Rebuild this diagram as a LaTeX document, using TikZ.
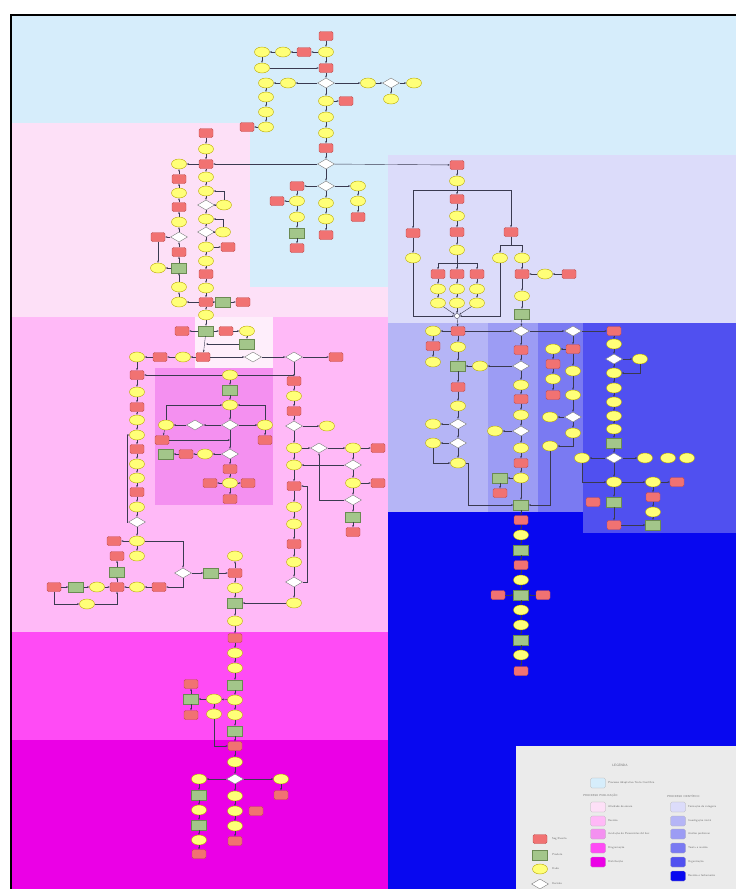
\documentclass[tikz,border=0pt]{standalone}
\usetikzlibrary{shapes.geometric,arrows.meta}
\definecolor{lblue}{HTML}{D6EDFB}
\definecolor{lpink}{HTML}{FDE0F7}
\definecolor{wpink}{HTML}{FEEEFB}
\definecolor{pinkb}{HTML}{FFB9F7}
\definecolor{pinkc}{HTML}{F490F0}
\definecolor{magd}{HTML}{FF4BF5}
\definecolor{mage}{HTML}{EB00E6}
\definecolor{lava}{HTML}{DCDCFA}
\definecolor{blub}{HTML}{B5B5F6}
\definecolor{bluc}{HTML}{9C9CF4}
\definecolor{blud}{HTML}{7A7AF2}
\definecolor{blue5}{HTML}{5050F0}
\definecolor{bluf}{HTML}{0808F0}
\definecolor{legbg}{HTML}{EBEBEB}
\definecolor{redf}{HTML}{F17272}
\definecolor{redb}{HTML}{C24F4F}
\definecolor{yelf}{HTML}{FFFF78}
\definecolor{yelb}{HTML}{B8A800}
\definecolor{grnf}{HTML}{A3C68A}
\definecolor{grnb}{HTML}{6A8A52}
\definecolor{linec}{HTML}{3A3A50}
\definecolor{legtxt}{HTML}{707070}
\tikzset{
  rn/.style={rectangle, draw=redb, fill=redf, rounded corners=1.5pt, minimum width=14pt, minimum height=9pt, inner sep=0pt, line width=0.4pt},
  yn/.style={ellipse, draw=yelb, fill=yelf, minimum width=15pt, minimum height=10pt, inner sep=0pt, line width=0.4pt},
  gn/.style={rectangle, draw=grnb, fill=grnf, minimum width=15pt, minimum height=10pt, inner sep=0pt, line width=0.4pt},
  dn/.style={diamond, draw=gray, fill=white, minimum width=17pt, minimum height=10pt, inner sep=0pt, line width=0.4pt},
  ar/.style={-{Stealth[length=2.2pt,width=1.8pt]}, draw=linec, line width=0.4pt},
  ln/.style={draw=linec, line width=0.4pt},
  legt/.style={font=\sffamily\fontsize{2.8}{3.2}\selectfont, text=legtxt, anchor=west, inner sep=0pt},
  swatch/.style={rectangle, rounded corners=1.5pt, draw=gray!60, minimum width=15pt, minimum height=10pt, inner sep=0pt, line width=0.3pt}
}
\begin{document}
\begin{tikzpicture}[x=1pt,y=-1pt]
\useasboundingbox (0,0) rectangle (736,889);
\fill[white] (0,0) rectangle (736,889);
% backgrounds
\fill[lblue] (12,16) rectangle (736,123);
\fill[lblue] (250,123) rectangle (388,287);
\fill[lblue] (388,123) rectangle (736,155);
\fill[lpink] (12,123) rectangle (250,317);
\fill[lpink] (250,287) rectangle (388,317);
\fill[pinkb] (12,317) rectangle (388,632);
\fill[wpink] (195,317) rectangle (273,368);
\fill[pinkc] (155,368) rectangle (273,505);
\fill[magd] (12,632) rectangle (388,740);
\fill[mage] (12,740) rectangle (388,889);
\fill[lava] (388,155) rectangle (736,323);
\fill[bluf] (388,323) rectangle (736,889);
\fill[blub] (388,323) rectangle (488,512);
\fill[bluc] (488,323) rectangle (538,512);
\fill[blud] (538,323) rectangle (583,512);
\fill[blue5] (583,323) rectangle (736,533);
\fill[legbg] (516,746) rectangle (736,889);
\draw[line width=1.6pt] (11,895) -- (11,15) -- (742,15);

% red nodes
\foreach \p/\q in {326/36, 304/52, 326/68, 247/127, 346/101, 326/148,
  297/186, 277/201, 326/235, 358/217, 297/248,
  206/133, 206/164, 228/247, 206/274, 206/302, 243/302, 179/179, 179/207, 158/237, 179/252,
  182/331, 226/331, 160/357, 203/357, 336/357,
  137/375, 137/407, 137/449, 137/492,
  162/440, 265/440, 186/454, 230/469, 210/483, 248/483, 230/499,
  294/381, 294/411, 378/448, 378/483, 294/486, 353/532, 294/544,
  114/541, 117/556, 54/587, 117/587, 159/587, 235/573, 235/638, 191/684, 191/715, 235/746, 235/841, 199/854, 281/795, 256/811,
  457/165, 457/199, 457/232, 413/233, 511/232, 438/274, 457/274, 477/274, 522/274, 569/274,
  458/331, 433/346, 458/387, 521/350, 521/399, 521/463, 500/493, 521/520, 573/349, 553/364, 553/395,
  614/331, 677/482, 593/502, 653/497, 614/525,
  521/565, 498/595, 543/595, 521/671}
  \node[rn] (R\p x\q) at (\p,\q) {};

% yellow nodes
\foreach \p/\q in {262/52, 283/52, 326/52, 262/68, 288/83, 266/83, 368/83, 414/83, 391/99, 266/97, 266/112, 266/127, 326/101, 326/117, 326/133,
  297/201, 297/217, 326/203, 326/219, 358/186, 358/201,
  206/149, 179/164, 206/177, 206/191, 224/205, 206/219, 223/232, 206/247, 206/261, 206/288, 206/315, 179/302, 179/193, 179/222, 158/268, 179/287,
  247/331, 137/357, 183/357,
  137/392, 137/420, 137/435, 137/464, 137/478, 137/507,
  230/375, 230/405, 166/425, 265/425, 205/454, 230/483,
  294/396, 327/426, 294/448, 353/448, 294/465, 353/483, 294/507, 294/524, 294/562, 294/603,
  137/541, 137/556, 137/587, 97/587, 87/604, 235/556, 235/588, 235/621, 235/653, 235/668, 235/700, 235/715, 214/699, 214/714, 235/762, 235/796, 235/811, 235/826, 199/779, 281/779, 199/810, 199/840,
  457/181, 457/216, 457/250, 438/289, 457/289, 477/289, 438/303, 457/303, 477/303, 413/258, 500/258, 522/258, 545/274, 522/296,
  433/331, 433/362, 458/347, 458/406, 433/424, 433/443, 458/463, 480/366, 521/385, 521/415, 495/431, 521/448, 521/478,
  553/349, 573/371, 553/379, 573/395, 550/417, 573/433, 550/446,
  614/344, 640/359, 614/373, 614/388, 614/402, 614/416, 614/429, 582/458, 645/458, 668/458, 687/458, 614/482, 653/482, 653/512,
  521/535, 521/580, 521/610, 521/625, 521/655}
  \node[yn] (Y\p x\q) at (\p,\q) {};

% green nodes
\foreach \p/\q in {297/233, 223/302, 179/268, 206/331, 247/344, 230/390, 166/454, 353/517, 117/572, 211/573, 76/587, 235/603, 235/685, 191/699, 235/731, 199/795, 199/825,
  522/314, 458/366, 500/478, 521/505, 614/443, 614/502, 653/525, 521/550, 521/595, 521/640}
  \node[gn] (G\p x\q) at (\p,\q) {};

% decisions
\foreach \p/\q in {326/83, 391/83, 326/164, 326/186, 206/205, 206/232, 179/237, 253/357, 294/357, 137/522, 230/425, 195/425, 230/454, 294/426, 319/448, 353/465, 353/500, 294/582, 183/573, 235/779,
  521/331, 573/331, 521/366, 458/424, 458/443, 521/431, 573/417, 614/359, 614/458}
  \node[dn] (D\p x\q) at (\p,\q) {};

\node[circle, draw=linec, fill=white, minimum size=5pt, inner sep=0pt] (J) at (457,316) {};
\coordinate (bara) at (457,190);
\coordinate (barb) at (457,263);
\coordinate (spl) at (511,245);
\coordinate (k307) at (307,486);
\coordinate (k468) at (468,505);

% straight connectors
\foreach \a/\b in {R326x36/Y326x52, Y326x52/R304x52, R304x52/Y283x52, Y283x52/Y262x52, Y262x52/Y262x68, Y262x68/R326x68, Y326x52/R326x68, R326x68/D326x83,
  D326x83/Y288x83, Y288x83/Y266x83, Y266x83/Y266x97, Y266x97/Y266x112, Y266x112/Y266x127, Y266x127/R247x127,
  D326x83/Y368x83, Y368x83/D391x83, D391x83/Y414x83, D391x83/Y391x99,
  D326x83/Y326x101, Y326x101/R346x101, Y326x101/Y326x117, Y326x117/Y326x133, Y326x133/R326x148, R326x148/D326x164,
  D326x164/R206x164, D326x164/R457x165, D326x164/D326x186, D326x186/R297x186, D326x186/Y358x186, D326x186/Y326x203, Y326x203/Y326x219, Y326x219/R326x235,
  R297x186/Y297x201, Y297x201/R277x201, Y297x201/Y297x217, Y297x217/G297x233, G297x233/R297x248, Y358x186/Y358x201, Y358x201/R358x217,
  R206x133/Y206x149, Y206x149/R206x164, R206x164/Y206x177, Y206x177/Y206x191, Y206x191/D206x205, D206x205/Y224x205, D206x205/Y206x219,
  Y206x219/D206x232, D206x232/Y223x232, D206x232/Y206x247, Y206x247/R228x247, Y206x247/Y206x261, Y206x261/R206x274, R206x274/Y206x288,
  Y206x288/R206x302, R206x302/G223x302, G223x302/R243x302, R206x302/Y179x302, R206x302/Y206x315, Y206x315/G206x331, R206x164/Y179x164,
  Y179x302/Y179x287, Y179x287/G179x268, G179x268/R179x252, R179x252/D179x237, D179x237/Y179x222, Y179x222/R179x207, R179x207/Y179x193,
  Y179x193/R179x179, R179x179/Y179x164, D179x237/R158x237, R158x237/Y158x268, G179x268/Y158x268,
  G206x331/R182x331, G206x331/R226x331, R226x331/Y247x331, Y247x331/G247x344, G206x331/R203x357,
  R203x357/Y183x357, Y183x357/R160x357, R160x357/Y137x357, R203x357/D253x357, D253x357/D294x357, D294x357/R336x357,
  Y137x357/R137x375, R137x375/Y137x392, Y137x392/R137x407, R137x407/Y137x420, Y137x420/Y137x435, Y137x435/R137x449, R137x449/Y137x464,
  Y137x464/Y137x478, Y137x478/R137x492, R137x492/Y137x507, Y137x507/D137x522, D137x522/Y137x541, Y137x541/R114x541, Y137x541/Y137x556,
  Y230x375/R137x375, Y230x375/G230x390, G230x390/Y230x405, Y230x405/D230x425, D230x425/D195x425, D195x425/Y166x425, D230x425/Y265x425, Y265x425/R265x440,
  D230x425/D230x454, D230x454/Y205x454, Y205x454/R186x454, R186x454/G166x454, D230x454/R230x469, R230x469/Y230x483, Y230x483/R210x483,
  Y230x483/R248x483, Y230x483/R230x499, Y166x425/R162x440,
  D294x357/R294x381, R294x381/Y294x396, Y294x396/R294x411, R294x411/D294x426, D294x426/Y327x426, D294x426/Y294x448, Y294x448/D319x448,
  D319x448/Y353x448, Y353x448/R378x448, Y294x448/Y294x465, Y294x465/R294x486, R294x486/Y294x507, Y294x507/Y294x524, Y294x524/R294x544,
  R294x544/Y294x562, Y294x562/D294x582, D294x582/Y294x603, Y294x603/G235x603, Y353x448/D353x465, D353x465/Y294x465, D353x465/Y353x483,
  Y353x483/R378x483, Y353x483/D353x500, D353x500/G353x517, G353x517/R353x532,
  D183x573/G211x573, G211x573/R235x573, R235x573/Y235x556, R235x573/Y235x588, Y235x588/G235x603, R159x587/Y137x587, Y137x587/R117x587,
  R117x587/G117x572, G117x572/R117x556, R54x587/G76x587, G76x587/Y97x587, Y97x587/R117x587,
  G235x603/Y235x621, Y235x621/R235x638, R235x638/Y235x653, Y235x653/Y235x668, Y235x668/G235x685, G235x685/Y235x700, Y235x700/Y235x715,
  Y235x715/G235x731, G235x731/R235x746, R235x746/Y235x762, Y235x762/D235x779, D235x779/Y235x796, Y235x796/Y235x811, Y235x811/Y235x826,
  Y235x826/R235x841, Y235x700/Y214x699, Y214x699/G191x699, G191x699/R191x684, G191x699/R191x715, Y214x699/Y214x714,
  D235x779/Y199x779, D235x779/Y281x779, Y199x779/G199x795, G199x795/Y199x810, Y199x810/G199x825, G199x825/Y199x840, Y199x840/R199x854, Y281x779/R281x795,
  R457x165/Y457x181, Y457x181/R457x199, R457x199/Y457x216, Y457x216/R457x232, R457x232/Y457x250, Y457x250/R457x274,
  R438x274/Y438x289, Y438x289/Y438x303, R457x274/Y457x289, Y457x289/Y457x303, R477x274/Y477x289, Y477x289/Y477x303,
  Y438x303/J, Y457x303/J, Y477x303/J, R413x233/Y413x258,
  Y522x258/R522x274, R522x274/Y522x296, Y522x296/G522x314, G522x314/D521x331, R569x274/Y545x274, Y545x274/R522x274, J/R458x331,
  R458x331/Y433x331, R458x331/D521x331, D521x331/D573x331, D573x331/R614x331, R458x331/Y458x347, Y458x347/G458x366, G458x366/R458x387,
  R458x387/Y458x406, Y458x406/D458x424, D458x424/D458x443, D458x443/Y458x463, D458x424/Y433x424, D458x443/Y433x443, Y480x366/G458x366,
  Y433x331/R433x346, R433x346/Y433x362,
  D521x331/R521x350, R521x350/D521x366, D521x366/Y480x366, D521x366/Y521x385, Y521x385/R521x399, R521x399/Y521x415, Y521x415/D521x431,
  D521x431/Y495x431, D521x431/Y521x448, Y521x448/R521x463, R521x463/Y521x478, Y521x478/G500x478, G500x478/R500x493, Y521x478/G521x505,
  D573x331/R573x349, R573x349/Y553x349, Y553x349/R553x364, R553x364/Y553x379, Y553x379/R553x395, R573x349/Y573x371, Y573x371/Y573x395,
  Y573x395/D573x417, D573x417/Y550x417, D573x417/Y573x433,
  R614x331/Y614x344, Y614x344/D614x359, D614x359/Y640x359, D614x359/Y614x373, Y614x373/Y614x388, Y614x388/Y614x402, Y614x402/Y614x416,
  Y614x416/Y614x429, Y614x429/G614x443, G614x443/D614x458, D614x458/Y582x458, D614x458/Y645x458, D614x458/Y614x482, Y614x482/Y653x482,
  Y653x482/R677x482, Y653x482/R653x497, R653x497/Y653x512, Y653x512/G653x525, Y614x482/G614x502, G614x502/R614x525, R614x525/G653x525,
  G521x505/R521x520, R521x520/Y521x535, Y521x535/G521x550, G521x550/R521x565, R521x565/Y521x580, Y521x580/G521x595, R498x595/G521x595,
  R543x595/G521x595, G521x595/Y521x610, Y521x610/Y521x625, Y521x625/G521x640, G521x640/Y521x655, Y521x655/R521x671}
  \draw[ar] (\a) -- (\b);

% orthogonal connectors
\draw[ar] (Y224x205) |- (Y206x191);
\draw[ar] (Y223x232) |- (Y206x219);
\draw[ar] (G247x344) -- (G247x344 -| G206x331);
\draw[ar] (D137x522.west) -| (127,435) -- (Y137x435);
\draw[ln] (Y230x375) -- (Y230x375 -| D294x357);
\draw[ar] (Y166x425) |- (Y230x405);
\draw[ar] (Y265x425) |- (Y230x405);
\draw[ar] (R162x440) -- (R162x440 -| D230x425);
\draw[ar] (D353x500) -| (D319x448);
\draw[ar] (D294x582) -| (k307) -- (R294x486);
\draw[ar] (Y137x541) -| (D183x573);
\draw[ar] (D183x573) |- (R159x587);
\draw[ar] (R54x587) |- (Y87x604);
\draw[ar] (Y87x604) -| (R117x587);
\draw[ar] (Y214x714) |- (R235x746);
\draw[ar] (bara) -| (R413x233);
\draw[ar] (bara) -| (R511x232);
\draw[ar] (barb) -| (R438x274);
\draw[ar] (barb) -| (R477x274);
\draw[ln] (R511x232) -- (spl);
\draw[ar] (spl) -| (Y500x258);
\draw[ar] (spl) -| (Y522x258);
\draw[ar] (Y413x258) |- (J);
\draw[ar] (Y500x258) |- (J);
\draw[ar] (Y433x443) |- (Y458x463);
\draw[ar] (Y458x463) -| (k468) -- (G521x505);
\draw[ar] (Y573x433) |- (Y550x446);
\draw[ar] (Y550x446) |- (G521x505);
\draw[ar] (Y640x359) |- (Y614x373);
\draw[ar] (Y582x458) |- (Y614x482);

% legend
\node[font=\sffamily\fontsize{3.2}{3.8}\selectfont, text=legtxt, inner sep=0pt] (lgT) at (620,765) {LEGENDA};
\node[swatch, fill=lblue] (lgA) at (598,783) {};
\node[legt] (lgAt) at (608,783) {Processo Adaptativo Texto Científico};
\node[legt] (lgH1) at (583,796) {PROCESSO PUBLICAÇÃO};
\node[legt] (lgH2) at (667,796) {PROCESSO CIENTÍFICO};
\foreach \q/\c/\t in {807/lpink/Atividade de ensaio, 821/pinkb/Revisão/Normalização, 834/pinkc/Avaliação de Pareceristas Ad hoc, 848/magd/Diagramação, 862/mage/Distribuição}
  {\node[swatch, fill=\c] (lgP\q) at (598,\q) {};
   \node[legt] (lgPt\q) at (608,\q) {\t};}
\foreach \q/\c/\t in {807/lava/Formação de categoria, 821/blub/Investigação inicial, 834/bluc/Análise preliminar, 848/blud/Teoria e revisão, 862/blue5/Organização, 876/bluf/Revisão e fechamento}
  {\node[swatch, fill=\c] (lgB\q) at (678,\q) {};
   \node[legt] (lgBt\q) at (688,\q) {\t};}
\node[rn] (lgR) at (540,839) {};
\node[gn] (lgG) at (540,855) {};
\node[yn] (lgY) at (540,869) {};
\node[dn] (lgD) at (540,884) {};
\node[legt] (lgRt) at (552,839) {Seg/Evento};
\node[legt] (lgGt) at (552,855) {Produto};
\node[legt] (lgYt) at (552,869) {Dado};
\node[legt] (lgDt) at (552,884) {Decisão};
\end{tikzpicture}
\end{document}
